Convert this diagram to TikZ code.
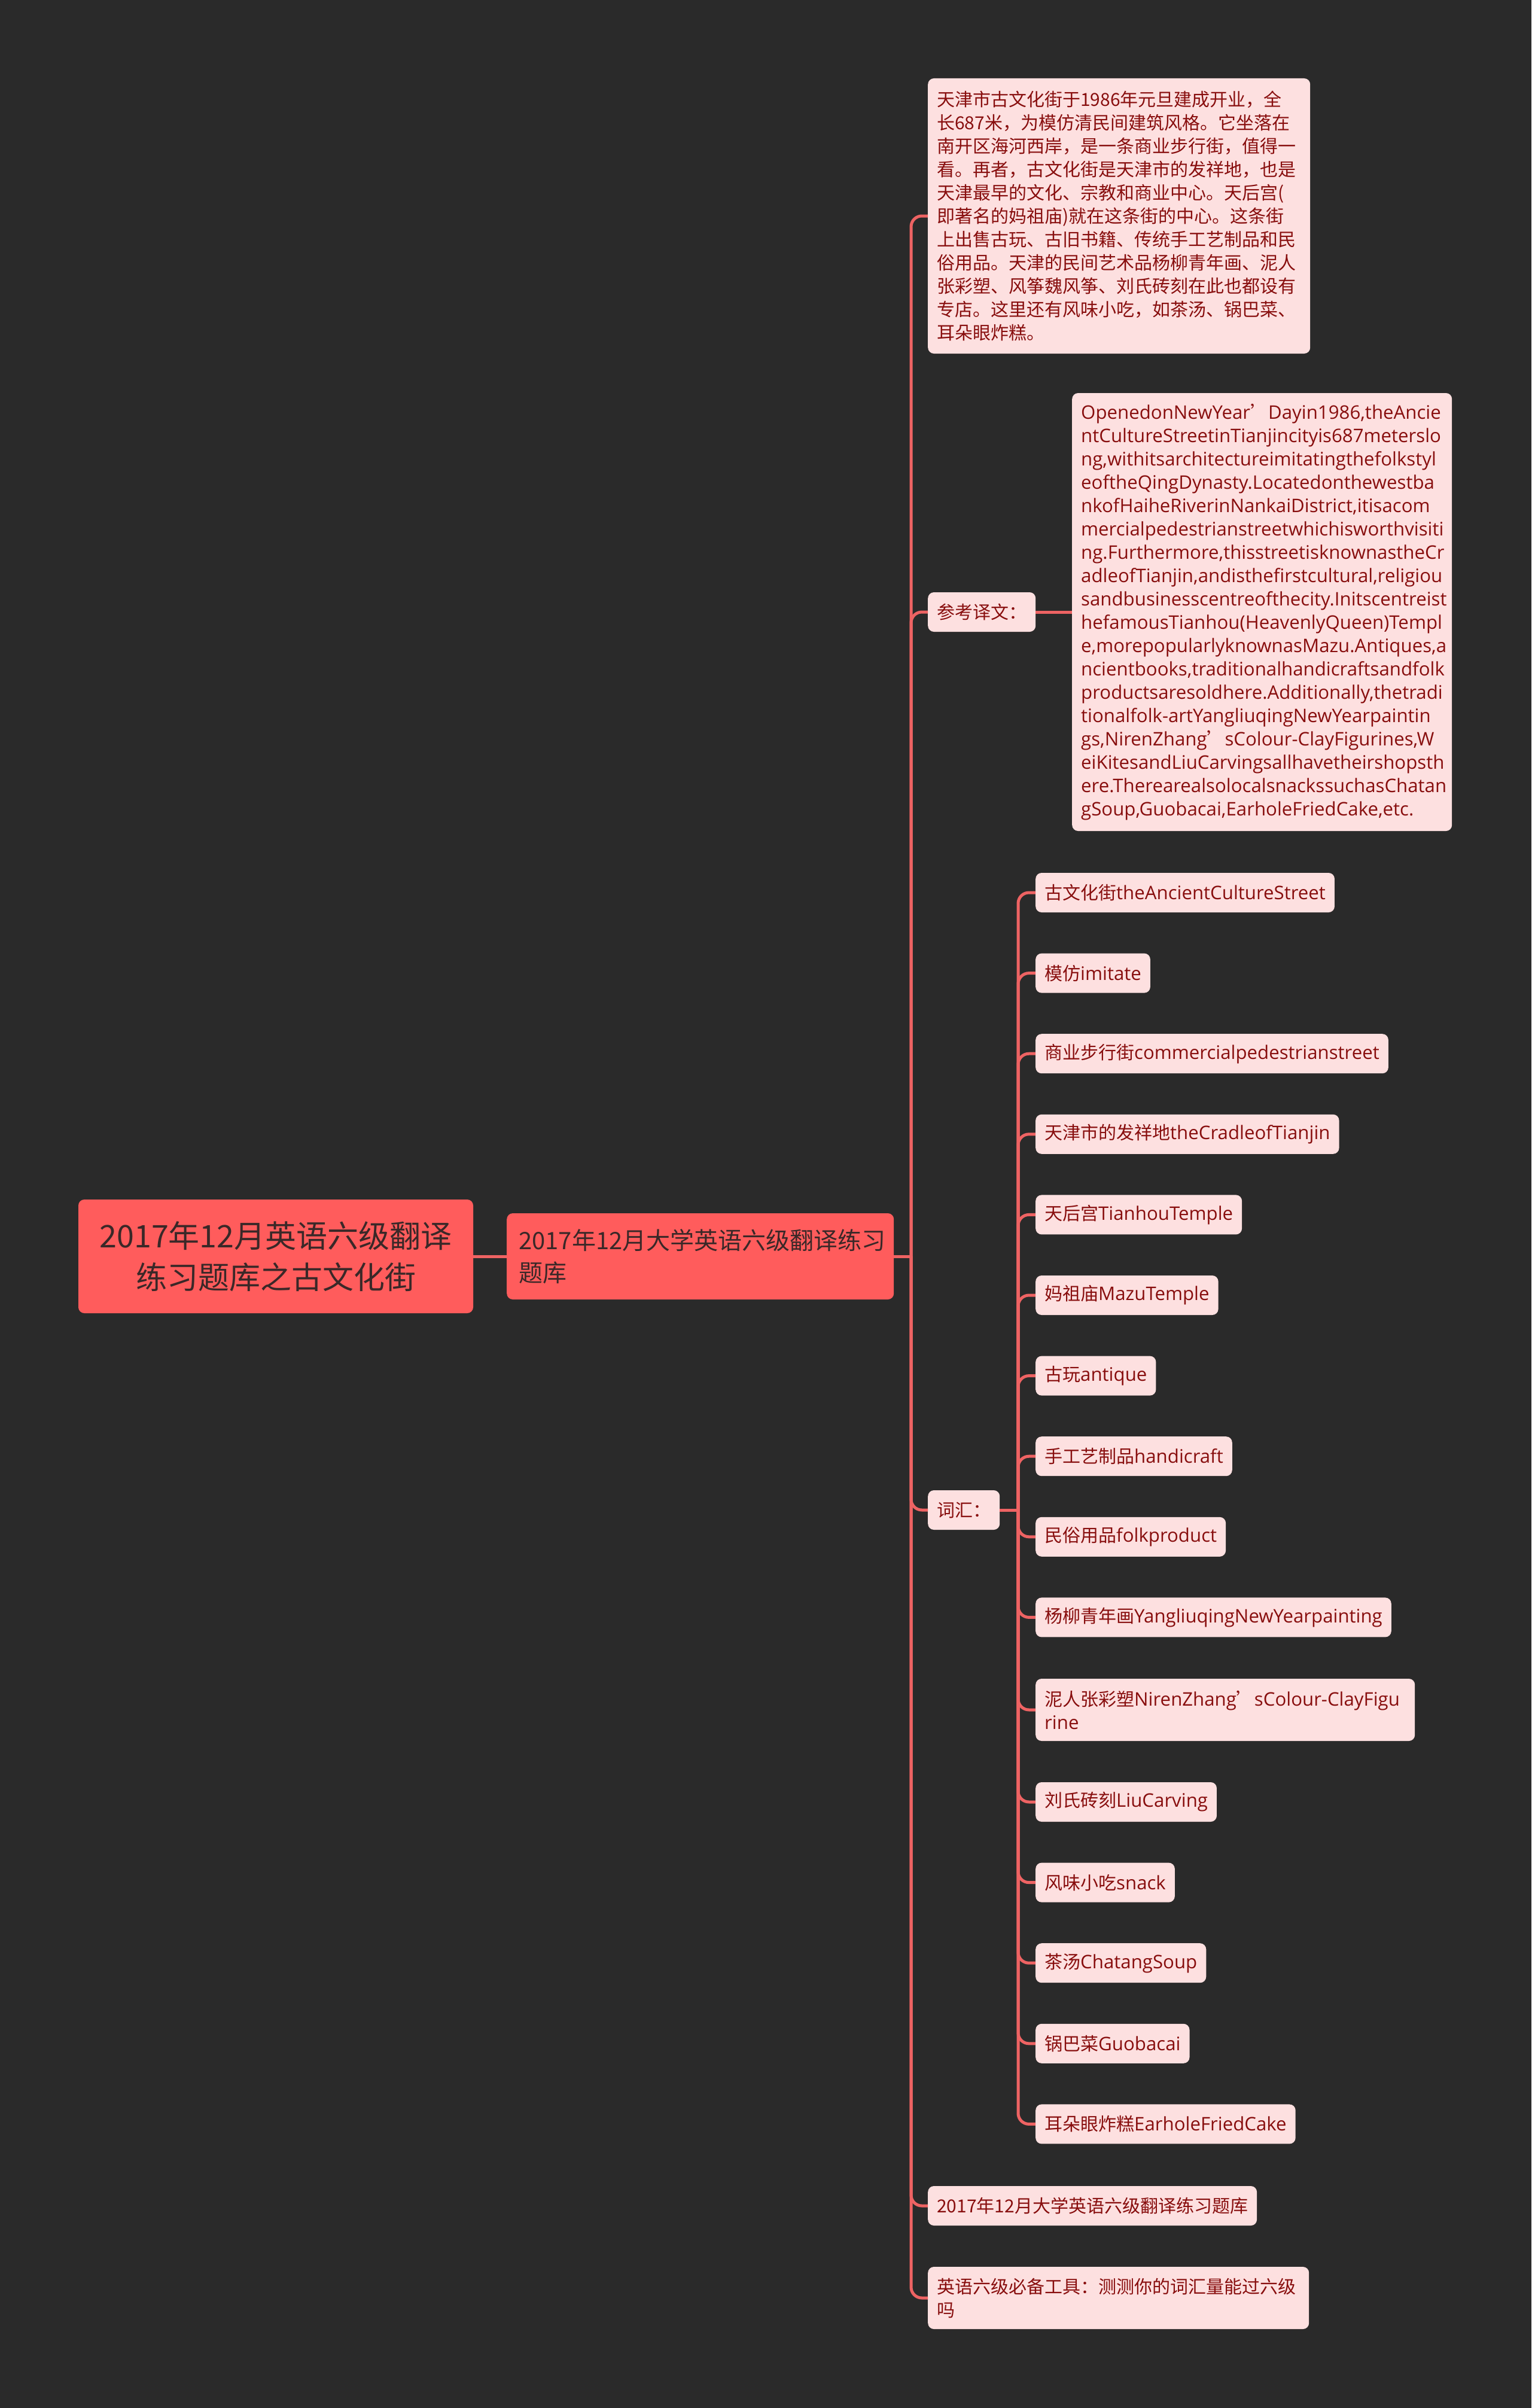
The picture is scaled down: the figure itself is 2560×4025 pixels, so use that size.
\documentclass[tikz,border=0pt]{standalone}
\usepackage{fontspec}
\setmainfont{Open Sans}
\newfontfamily\cjk{Noto Sans CJK SC}
\newcommand{\zh}[1]{{\cjk\fontsize{30pt}{39pt}\selectfont #1}}
\definecolor{bg}{HTML}{2A2A2A}
\definecolor{rootfill}{HTML}{FF5C5C}
\definecolor{roottext}{HTML}{3A2828}
\definecolor{leaffill}{HTML}{FDE0E0}
\definecolor{leaftext}{HTML}{880E0E}
\definecolor{linec}{HTML}{EE6363}
\tikzset{
  rootbox/.style={rounded corners=10pt, fill=rootfill, text=roottext, inner sep=0pt, align=center},
  leaf/.style={rounded corners=10pt, fill=leaffill, text=leaftext, inner xsep=15pt, inner ysep=0pt,
    minimum height=66pt, anchor=west, align=left, font=\fontsize{31.2pt}{39pt}\selectfont},
  zhleaf/.style={leaf, font=\cjk\fontsize{30pt}{39pt}\selectfont},
  conn/.style={draw=linec, line width=5pt},
  branch/.style={conn, rounded corners=18pt}
}
\begin{document}
\begin{tikzpicture}[x=1pt,y=-1pt]
\fill[bg] (0,0) rectangle (2560,4025);
\useasboundingbox (0,0) rectangle (2560,4025);

% junctions
\coordinate (j1) at (1523,2100);
\coordinate (j2) at (1702,2524);

% root and level 1
\node[rootbox, minimum width=660pt, minimum height=190pt,
      font=\cjk\fontsize{52pt}{69pt}\selectfont] (root) at (461,2100)
  {2017年12月英语六级翻译\\练习题库之古文化街};
\node[rootbox, anchor=west, minimum width=647pt, minimum height=144pt, inner xsep=20pt,
      text width=607pt, align=left, font=\cjk\fontsize{40pt}{54pt}\selectfont] (l1) at (847,2100)
  {2017年12月大学英语六级翻译练习\\题库};

% level 2
\node[zhleaf, text width=609pt, minimum height=460pt] (zh) at (1551,361)
  {天津市古文化街于1986年元旦建成开业，全\\
   长687米，为模仿清民间建筑风格。它坐落在\\
   南开区海河西岸，是一条商业步行街，值得一\\
   看。再者，古文化街是天津市的发祥地，也是\\
   天津最早的文化、宗教和商业中心。天后宫(\\
   即著名的妈祖庙)就在这条街的中心。这条街\\
   上出售古玩、古旧书籍、传统手工艺制品和民\\
   俗用品。天津的民间艺术品杨柳青年画、泥人\\
   张彩塑、风筝魏风筝、刘氏砖刻在此也都设有\\
   专店。这里还有风味小吃，如茶汤、锅巴菜、\\
   耳朵眼炸糕。};
\node[zhleaf] (ref) at (1551,1023) {参考译文：};
\node[leaf, text width=605pt, minimum height=732pt] (en) at (1792,1023)
  {OpenedonNewYear\zh{’}Dayin1986,theAncie\\
   ntCultureStreetinTianjincityis687meterslo\\
   ng,withitsarchitectureimitatingthefolkstyl\\
   eoftheQingDynasty.Locatedonthewestba\\
   nkofHaiheRiverinNankaiDistrict,itisacom\\
   mercialpedestrianstreetwhichisworthvisiti\\
   ng.Furthermore,thisstreetisknownastheCr\\
   adleofTianjin,andisthefirstcultural,religiou\\
   sandbusinesscentreofthecity.Initscentreist\\
   hefamousTianhou(HeavenlyQueen)Templ\\
   e,morepopularlyknownasMazu.Antiques,a\\
   ncientbooks,traditionalhandicraftsandfolk\\
   productsaresoldhere.Additionally,thetradi\\
   tionalfolk-artYangliuqingNewYearpaintin\\
   gs,NirenZhang\zh{’}sColour-ClayFigurines,W\\
   eiKitesandLiuCarvingsallhavetheirshopsth\\
   ere.TherearealsolocalsnackssuchasChatan\\
   gSoup,Guobacai,EarholeFriedCake,etc.};
\node[zhleaf] (vocab) at (1551,2524) {词汇：};
\node[zhleaf] (bank) at (1551,3687) {2017年12月大学英语六级翻译练习题库};
\node[zhleaf, text width=607pt, minimum height=104pt] (tool) at (1551,3841)
  {英语六级必备工具：测测你的词汇量能过六级\\吗};

% vocabulary items
\foreach \y/\c/\e [count=\i] in {
  1492/古文化街/theAncientCultureStreet,
  1626.6/模仿/imitate,
  1761.2/商业步行街/commercialpedestrianstreet,
  1895.8/天津市的发祥地/theCradleofTianjin,
  2030.4/天后宫/TianhouTemple,
  2165/妈祖庙/MazuTemple,
  2299.6/古玩/antique,
  2434.2/手工艺制品/handicraft,
  2568.8/民俗用品/folkproduct,
  2703.4/杨柳青年画/YangliuqingNewYearpainting,
  3012/刘氏砖刻/LiuCarving,
  3146.6/风味小吃/snack,
  3281.2/茶汤/ChatangSoup,
  3415.8/锅巴菜/Guobacai,
  3550.4/耳朵眼炸糕/EarholeFriedCake}{
  \node[leaf] (v\i) at (1731,\y) {\zh{\c}\e};
  \draw[branch] (j2) |- (v\i.west);
}
\node[leaf, text width=604pt, minimum height=104pt] (clay) at (1731,2858)
  {\zh{泥人张彩塑}NirenZhang\zh{’}sColour-ClayFigu\\rine};
\draw[branch] (j2) |- (clay.west);

% connectors
\draw[conn] (root.east) -- (l1.west);
\draw[conn] (l1.east) -- (j1);
\foreach \n in {zh,ref,vocab,bank,tool}{
  \draw[branch] (j1) |- (\n.west);
}
\draw[conn] (ref.east) -- (en.west);
\draw[conn] (vocab.east) -- (j2);
\end{tikzpicture}
\end{document}
